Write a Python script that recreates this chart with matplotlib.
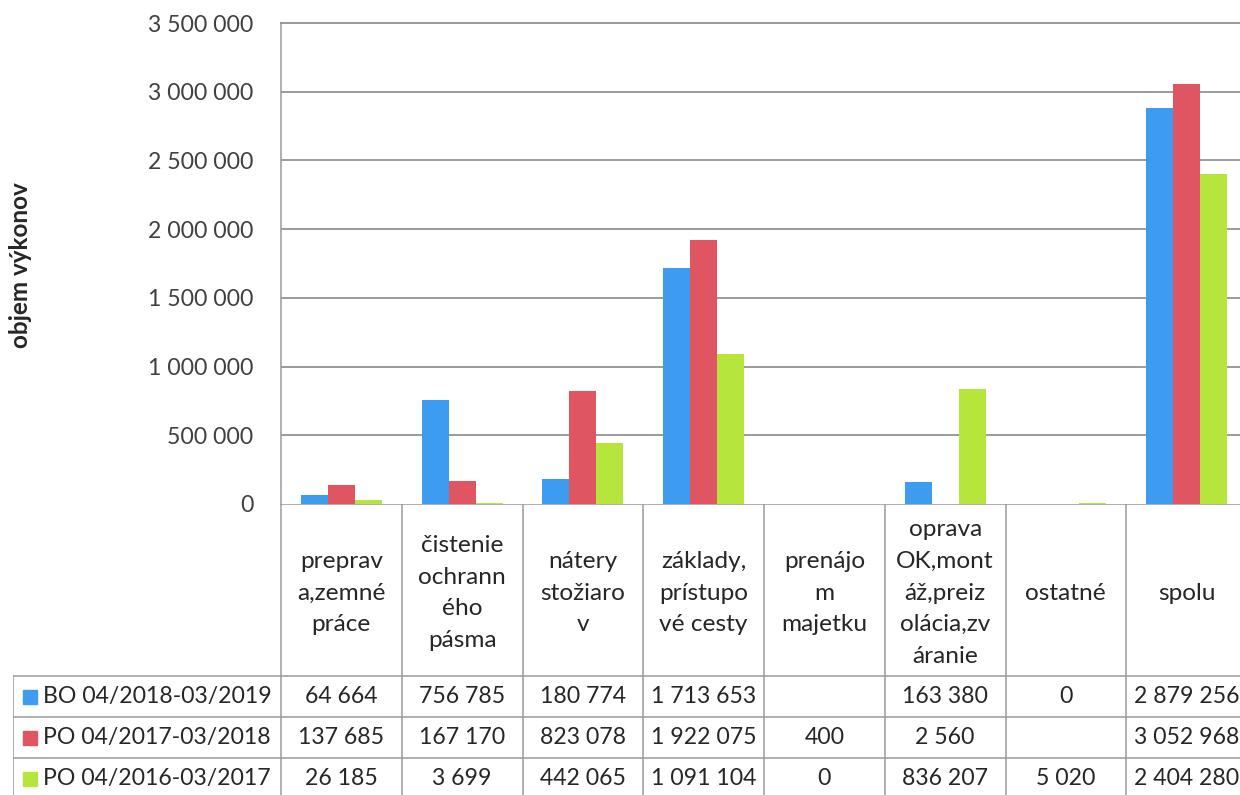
import matplotlib
matplotlib.use('Agg')
import matplotlib.pyplot as plt
import numpy as np

plt.rcParams['font.family'] = ['Lato', 'DejaVu Sans']

# kategórie výkonov (hlavičky tabuľky sú zalomené ako v Exceli)
categories = [
    'preprav\na,zemné\npráce',
    'čistenie\nochrann\ného\npásma',
    'nátery\nstožiaro\nv',
    'základy,\nprístupo\nvé cesty',
    'prenájo\nm\nmajetku',
    'oprava\nOK,mont\náž,preiz\nolácia,zv\náranie',
    'ostatné',
    'spolu',
]
series_names = ['BO 04/2018-03/2019', 'PO 04/2017-03/2018', 'PO 04/2016-03/2017']
bo_18_19 = [64664, 756785, 180774, 1713653, None, 163380, 0, 2879256]
po_17_18 = [137685, 167170, 823078, 1922075, 400, 2560, None, 3052968]
po_16_17 = [26185, 3699, 442065, 1091104, 0, 836207, 5020, 2404280]
series = [bo_18_19, po_17_18, po_16_17]
colors = ['#3d9cf0', '#e05562', '#b6e63c']

y_ticks = [0, 500000, 1000000, 1500000, 2000000, 2500000, 3000000, 3500000]

W, H = 1240, 795
FS = 16.6
grid_col = '#8a8a8a'
line_col = '#9a9a9a'
text_col = '#262626'


def fmt(v):
    if v is None:
        return ''
    return f'{v:,}'.replace(',', ' ')


fig = plt.figure(figsize=(W / 100, H / 100), dpi=100)

# oblasť grafu (pravý okraj presahuje obrázok)
ax_l, ax_r, ax_t, ax_b = 281, 1247, 23, 504
ax = fig.add_axes([ax_l / W, (H - ax_b) / H, (ax_r - ax_l) / W, (ax_b - ax_t) / H])

n = len(categories)
x = np.arange(n)
bw = 0.224
for i, (vals, c) in enumerate(zip(series, colors)):
    heights = [0 if v is None else v for v in vals]
    ax.bar(x + (i - 1) * bw, heights, bw, color=c, zorder=3)

ax.set_xlim(-0.5, n - 0.5)
ax.set_ylim(0, 3500000)
ax.set_yticks(y_ticks)
ax.set_yticklabels([fmt(v) for v in y_ticks], fontsize=FS, color='#404040')
ax.tick_params(axis='y', length=0, pad=20)
ax.set_xticks([])
for yv in y_ticks[1:-1]:
    ax.axhline(yv, color=grid_col, lw=1.2, zorder=1)
for side in ['right', 'bottom']:
    ax.spines[side].set_visible(False)
ax.spines['top'].set_color(grid_col)
ax.spines['left'].set_color(line_col)
ax.spines['top'].set_linewidth(1.2)
ax.spines['left'].set_linewidth(1.1)

fig.text(21 / W, (H - 265) / H, 'objem výkonov', rotation=90, fontsize=17.5,
         fontweight='bold', color=text_col, ha='center', va='center')

# tabuľka údajov pod grafom
tb_l, tb_t = 13, 504
head_h, row_h = 172, 41
tb_b = tb_t + head_h + row_h * len(series)
cat_w = (ax_r - ax_l) / n
leg_w = (ax_l - tb_l) / cat_w
tax = fig.add_axes([tb_l / W, (H - tb_b) / H, (ax_r - tb_l) / W, (tb_b - tb_t) / H])
tax.set_xlim(-0.5 - leg_w, n - 0.5)
tax.set_ylim(tb_b - tb_t, 0)
tax.axis('off')

lk = dict(color=line_col, lw=1.1)
tax.plot([-0.5, n - 0.5], [0, 0], **lk)
for k in range(n + 1):
    tax.plot([k - 0.5, k - 0.5], [0, tb_b - tb_t], **lk)
for r in range(len(series) + 1):
    yy = head_h + r * row_h
    tax.plot([-0.5 - leg_w, n - 0.5], [yy, yy], **lk)
tax.plot([-0.5 - leg_w, -0.5 - leg_w], [head_h, tb_b - tb_t], **lk)

# hlavičky stĺpcov
for k, cat in enumerate(categories):
    tax.text(k, head_h / 2 + 3, cat, ha='center', va='center', fontsize=17.6,
             color=text_col, linespacing=1.62)

# riadky s legendou a hodnotami
for r, (name, vals, c) in enumerate(zip(series_names, series, colors)):
    yc = head_h + (r + 0.5) * row_h
    tax.plot(-0.5 - leg_w + 17 / cat_w, yc, marker='s', ms=10, color=c, mec=c)
    tax.text(-0.5 - leg_w + 30 / cat_w, yc, name, ha='left', va='center',
             fontsize=FS, color=text_col)
    for k, v in enumerate(vals):
        tax.text(k, yc, fmt(v), ha='center', va='center', fontsize=FS, color=text_col)

fig.savefig('out.png', dpi=100)
